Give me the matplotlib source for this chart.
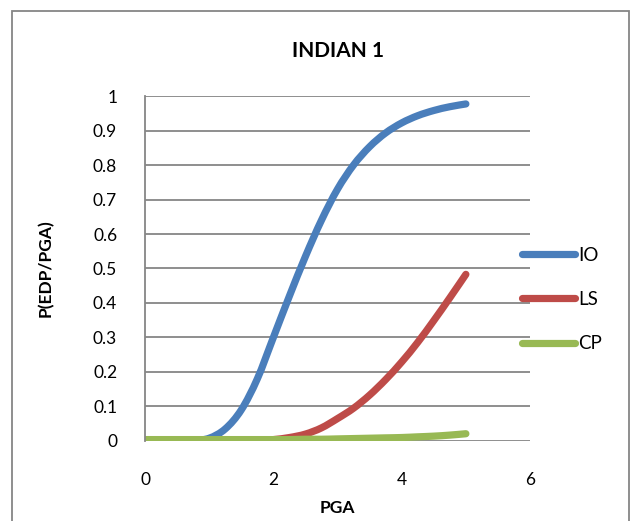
import matplotlib.pyplot as plt
from matplotlib.patches import Rectangle, PathPatch
from matplotlib.path import Path
from matplotlib.lines import Line2D

plt.rcParams['font.family'] = ['Lato', 'DejaVu Sans']

# fragility curves, P(EDP/PGA) against PGA
pga = [0, 0.25, 0.5, 0.75, 1.0, 1.25, 1.5, 1.75, 2.0, 2.25, 2.5,
       2.75, 3.0, 3.25, 3.5, 3.75, 4.0, 4.25, 4.5, 4.75, 5.0]
io = [0, 0, 0, 0.001, 0.008, 0.035, 0.09, 0.18, 0.30, 0.42, 0.535,
      0.64, 0.73, 0.80, 0.853, 0.893, 0.922, 0.943, 0.958, 0.969, 0.977]
ls = [0, 0, 0, 0, 0, 0, 0, 0.001, 0.004, 0.01, 0.02,
      0.038, 0.065, 0.095, 0.133, 0.178, 0.229, 0.286, 0.349, 0.415, 0.483]
cp = [0.004, 0.004, 0.004, 0.004, 0.004, 0.004, 0.004, 0.004, 0.004, 0.004, 0.005,
      0.005, 0.006, 0.007, 0.008, 0.009, 0.010, 0.012, 0.014, 0.017, 0.021]

series = [('IO', io, '#4A7EBB'), ('LS', ls, '#BE4B48'), ('CP', cp, '#98B954')]
LW = 5.2


def smooth_path(x, y):
    # smoothed line through the points (Catmull-Rom as cubic Beziers)
    verts = [(x[0], y[0])]
    codes = [Path.MOVETO]
    n = len(x)
    for i in range(n - 1):
        x0, y0 = (x[i - 1], y[i - 1]) if i > 0 else (x[i], y[i])
        x1, y1 = x[i], y[i]
        x2, y2 = x[i + 1], y[i + 1]
        x3, y3 = (x[i + 2], y[i + 2]) if i + 2 < n else (x2, y2)
        c1 = (x1 + (x2 - x0) / 6, y1 + (y2 - y0) / 6)
        c2 = (x2 - (x3 - x1) / 6, y2 - (y3 - y1) / 6)
        verts += [c1, c2, (x2, y2)]
        codes += [Path.CURVE4] * 3
    return Path(verts, codes)


fig = plt.figure(figsize=(6.31, 5.21), dpi=100)
ax = fig.add_axes([0.2298, 0.1536, 0.6102, 0.6621])

# outer chart frame
fig.patches.append(Rectangle((12 / 631, -0.05), 617 / 631, 1.05 - 11 / 521,
                             transform=fig.transFigure, fill=False,
                             edgecolor='#868686', linewidth=1.3))

handles = []
for name, vals, col in series:
    ax.add_patch(PathPatch(smooth_path(pga, vals), facecolor='none', edgecolor=col,
                           linewidth=LW, capstyle='round', joinstyle='round'))
    handles.append(Line2D([], [], color=col, linewidth=LW, solid_capstyle='round', label=name))

ax.set_xlim(0, 6)
ax.set_ylim(0, 1)
ax.set_xticks([0, 2, 4, 6])
ax.set_yticks([i / 10 for i in range(11)])
ax.set_yticklabels(['0', '0.1', '0.2', '0.3', '0.4', '0.5', '0.6', '0.7', '0.8', '0.9', '1'])
ax.grid(axis='y', color='#868686', linewidth=1.3)
ax.set_axisbelow(True)
for s in ['top', 'right', 'bottom']:
    ax.spines[s].set_visible(False)
ax.spines['left'].set_color('#868686')
ax.spines['left'].set_linewidth(1.3)
ax.tick_params(axis='both', length=0, labelsize=12.5)
ax.tick_params(axis='y', pad=20)
ax.tick_params(axis='x', pad=22)

ax.set_title('INDIAN 1', fontsize=15, fontweight='bold', pad=28)
ax.set_xlabel('PGA', fontsize=12.5, fontweight='bold', labelpad=9)
ax.set_ylabel('P(EDP/PGA)', fontsize=12.5, fontweight='bold', labelpad=28)

ax.legend(handles=handles, loc='center left', bbox_to_anchor=(0.935, 0.41), frameon=False,
          fontsize=13.5, handlelength=2.85, handletextpad=0.15, labelspacing=1.45)

fig.savefig('out.png', dpi=100)
